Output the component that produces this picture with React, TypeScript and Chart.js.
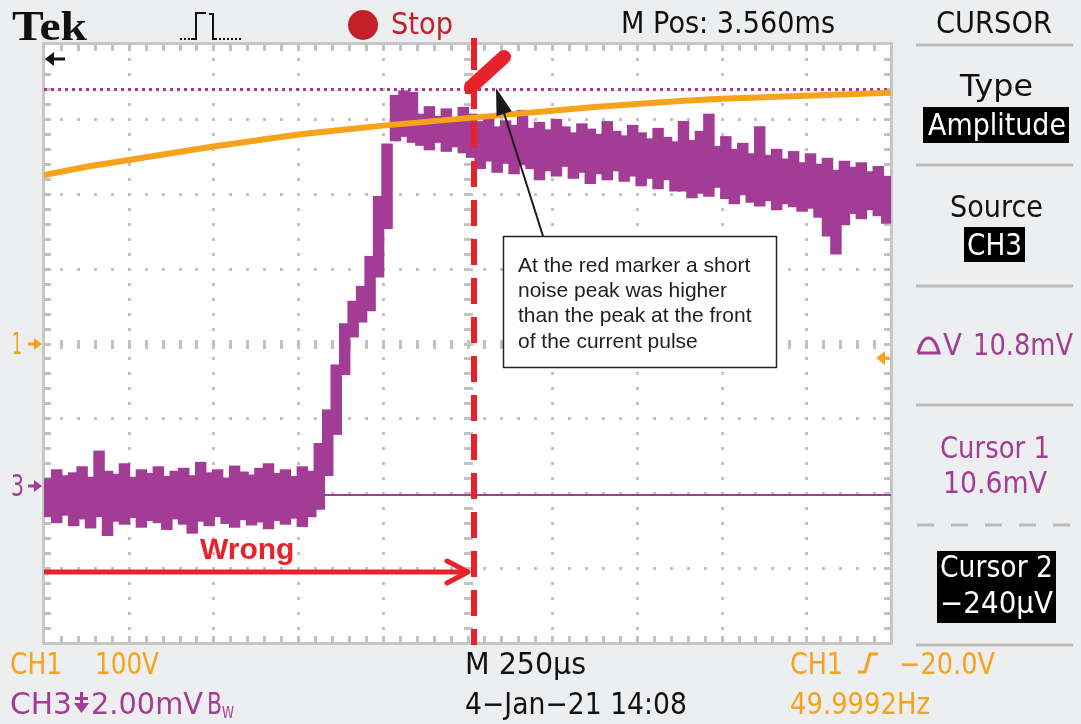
import React, { useEffect, useRef } from 'react';
import { Chart, registerables } from 'chart.js';

Chart.register(...registerables);

const W = 1081;
const H = 724;

// ---- data (screen divisions: x 0..10, y -4..+4) ----
const CH3_STEP_DIV = 0.1; // sampling step of the envelope columns
const ch3High = [
  -1.82, -1.70, -1.78, -1.74, -1.66, -1.80, -1.45, -1.72, -1.76, -1.62,
  -1.80, -1.70, -1.75, -1.66, -1.79, -1.72, -1.68, -1.78, -1.60, -1.74,
  -1.70, -1.81, -1.65, -1.73, -1.77, -1.68, -1.62, -1.75, -1.70, -1.79,
  -1.66, -1.72,
  -1.35, -0.90, -0.30, 0.25, 0.55, 0.75, 1.15, 1.95, 2.65,
  3.30, 3.36, 3.34, 3.05, 3.15, 3.02, 3.12, 3.00, 3.14, 3.05,
  2.95, 3.00, 2.88, 2.96, 2.90, 3.10, 2.86, 2.94, 2.84, 2.98,
  2.88, 2.80, 2.92, 2.85, 2.78, 2.95, 2.82, 2.76, 2.90, 2.80,
  2.72, 2.86, 2.74, 2.68, 2.95, 2.70, 2.82, 3.05, 2.62, 2.75,
  2.58, 2.66, 2.52, 2.88, 2.50, 2.58, 2.45, 2.55, 2.40, 2.52,
  2.38, 2.46, 2.30, 2.42, 2.34, 2.40, 2.28, 2.35, 2.22,
];
const ch3Low = [
  -2.30, -2.38, -2.28, -2.42, -2.33, -2.45, -2.30, -2.55, -2.36, -2.40,
  -2.31, -2.44, -2.35, -2.38, -2.47, -2.33, -2.40, -2.52, -2.36, -2.42,
  -2.30, -2.39, -2.44, -2.34, -2.41, -2.37, -2.46, -2.35, -2.40, -2.32,
  -2.43, -2.30,
  -2.20, -1.75, -1.20, -0.40, 0.10, 0.30, 0.45, 0.90, 1.55,
  2.72, 2.78, 2.70, 2.66, 2.60, 2.70, 2.58, 2.64, 2.56, 2.50,
  2.35, 2.45, 2.30, 2.42, 2.28, 2.40, 2.35, 2.20, 2.32, 2.25,
  2.38, 2.22, 2.30, 2.15, 2.28, 2.20, 2.32, 2.18, 2.25, 2.12,
  2.22, 2.08, 2.20, 2.05, 2.05, 1.96, 2.02, 1.98, 2.10, 1.95,
  1.88, 2.00, 1.90, 1.85, 1.92, 1.80, 1.88, 1.84, 1.78, 1.82,
  1.70, 1.45, 1.21, 1.60, 1.75, 1.68, 1.80, 1.72, 1.62,
];
const ch1Time = [0, 0.5, 1, 1.5, 2, 2.5, 3, 3.5, 4, 4.5, 5, 5.5, 6, 6.5, 7, 7.5, 8, 8.5, 9, 9.5, 10];
const ch1Level = [2.25, 2.36, 2.45, 2.54, 2.63, 2.71, 2.79, 2.85, 2.91, 2.96, 3.01, 3.06, 3.11, 3.16, 3.20, 3.24, 3.27, 3.29, 3.31, 3.33, 3.35];

const CH3_GROUND_DIV = -1.9;
const CH3_MV_PER_DIV = 2;
const CURSOR1_MV = 10.6;
const CURSOR2_MV = -0.24;
const CH1_REF_DIV = 0;
const TRIGGER_LEVEL_DIV = -0.19;
const MARKER_TIME_DIV = 5.08;

const headerTexts = { brand: 'Tek', state: 'Stop', pos: 'M Pos: 3.560ms', menu: 'CURSOR' };
const note = ['At the red marker a short', 'noise peak was higher', 'than the peak at the front', 'of the current pulse'];

const BG = '#EDEEF0';
const GRID = '#C2C2C2';
const FRAME = '#C6C6C6';
const ORANGE = '#F7A21B';
const PURPLE = '#A23C95';
const RED = '#E8222A';
const SEP = '#BBBBBB';
const SCR = '"DejaVu Sans"';

function fit(ctx: CanvasRenderingContext2D, s: string, x: number, y: number, w: number, size: number, color: string, font = SCR, weight = '') {
  ctx.save();
  ctx.font = `${weight} ${size}px ${font}`;
  ctx.fillStyle = color;
  ctx.textAlign = 'left';
  ctx.textBaseline = 'alphabetic';
  const m = ctx.measureText(s).width;
  ctx.translate(x, y);
  ctx.scale(w / m, 1);
  ctx.fillText(s, 0, 0);
  ctx.restore();
}

function arrowRight(ctx: CanvasRenderingContext2D, tipX: number, cy: number, color: string) {
  ctx.fillStyle = color;
  ctx.beginPath();
  ctx.moveTo(tipX, cy);
  ctx.lineTo(tipX - 8, cy - 6);
  ctx.lineTo(tipX - 8, cy + 6);
  ctx.closePath();
  ctx.fill();
  ctx.fillRect(tipX - 14, cy - 1.5, 8, 3);
}
function arrowLeft(ctx: CanvasRenderingContext2D, tipX: number, cy: number, color: string, len = 14) {
  ctx.fillStyle = color;
  ctx.beginPath();
  ctx.moveTo(tipX, cy);
  ctx.lineTo(tipX + 9, cy - 7);
  ctx.lineTo(tipX + 9, cy + 7);
  ctx.closePath();
  ctx.fill();
  ctx.fillRect(tipX + 6, cy - 1.5, len - 6, 3);
}

const scopePlugin = {
  id: 'scope',
  beforeDraw(chart: any) {
    const { ctx, chartArea: a } = chart;
    const xs = chart.scales.x;
    const ys = chart.scales.y;
    ctx.save();
    ctx.fillStyle = BG;
    ctx.fillRect(0, 0, W, H);
    ctx.fillStyle = '#FFFFFF';
    ctx.fillRect(a.left, a.top, a.right - a.left, a.bottom - a.top);
    ctx.fillStyle = GRID;
    for (let i = 1; i < 10; i++) {
      if (i === 5) continue;
      const px = Math.round(xs.getPixelForValue(i));
      for (let k = 1; k < 40; k++) {
        const py = Math.round(ys.getPixelForValue(-4 + k * 0.2));
        ctx.fillRect(px - 1, py - 1, 3, 3);
      }
    }
    for (let j = -3; j <= 3; j++) {
      if (j === 0) continue;
      const py = Math.round(ys.getPixelForValue(j));
      for (let k = 1; k < 50; k++) {
        const px = Math.round(xs.getPixelForValue(k * 0.2));
        ctx.fillRect(px - 1, py - 1, 3, 3);
      }
    }
    const cx = Math.round(xs.getPixelForValue(5));
    const cy = Math.round(ys.getPixelForValue(0));
    for (let k = 1; k < 50; k++) {
      const px = Math.round(xs.getPixelForValue(k * 0.2));
      ctx.fillRect(px - 1, cy - 4, 3, 9);
      ctx.fillRect(px - 1, a.top, 3, 7);
      ctx.fillRect(px - 1, a.bottom - 7, 3, 7);
    }
    for (let k = 1; k < 40; k++) {
      const py = Math.round(ys.getPixelForValue(-4 + k * 0.2));
      ctx.fillRect(cx - 4, py - 1, 9, 3);
      ctx.fillRect(a.left, py - 1, 7, 3);
      ctx.fillRect(a.right - 7, py - 1, 7, 3);
    }
    ctx.strokeStyle = FRAME;
    ctx.lineWidth = 3;
    ctx.strokeRect(a.left - 0.5, a.top - 0.5, a.right - a.left + 1, a.bottom - a.top + 1);
    ctx.restore();
  },
  beforeDatasetsDraw(chart: any) {
    const { ctx, chartArea: a } = chart;
    const ys = chart.scales.y;
    ctx.save();
    const c1 = ys.getPixelForValue(CH3_GROUND_DIV + CURSOR1_MV / CH3_MV_PER_DIV);
    const c2 = ys.getPixelForValue(CH3_GROUND_DIV + CURSOR2_MV / CH3_MV_PER_DIV);
    ctx.strokeStyle = PURPLE;
    ctx.lineWidth = 3;
    ctx.setLineDash([3, 4]);
    ctx.beginPath();
    ctx.moveTo(a.left, Math.round(c1) + 0.5);
    ctx.lineTo(a.right, Math.round(c1) + 0.5);
    ctx.stroke();
    ctx.setLineDash([]);
    ctx.lineWidth = 2;
    ctx.beginPath();
    ctx.moveTo(a.left, Math.round(c2));
    ctx.lineTo(a.right, Math.round(c2));
    ctx.stroke();
    ctx.restore();
  },
  afterDatasetsDraw(chart: any) {
    const { ctx, chartArea: a } = chart;
    const xs = chart.scales.x;
    const ys = chart.scales.y;
    ctx.save();
    const mx = Math.round(xs.getPixelForValue(MARKER_TIME_DIV));
    ctx.strokeStyle = RED;
    ctx.lineWidth = 6;
    ctx.fillStyle = RED;
    ctx.fillRect(mx - 3, 38, 6, a.top - 38);
    ctx.setLineDash([26, 13]);
    ctx.beginPath();
    ctx.moveTo(mx, a.top);
    ctx.lineTo(mx, a.bottom + 2);
    ctx.stroke();
    ctx.setLineDash([]);
    // red noise peak blob
    ctx.lineWidth = 14;
    ctx.lineCap = 'round';
    ctx.beginPath();
    ctx.moveTo(mx - 3, 87);
    ctx.lineTo(mx + 30, 57);
    ctx.stroke();
    ctx.lineCap = 'butt';
    ctx.fillRect(mx - 9, 82, 11, 12);
    // red "Wrong" arrow
    const ay = 572;
    ctx.lineWidth = 5;
    ctx.beginPath();
    ctx.moveTo(a.left, ay);
    ctx.lineTo(mx - 6, ay);
    ctx.stroke();
    ctx.lineCap = 'round';
    ctx.lineJoin = 'round';
    ctx.beginPath();
    ctx.moveTo(mx - 27, ay - 11);
    ctx.lineTo(mx - 6, ay);
    ctx.lineTo(mx - 27, ay + 11);
    ctx.stroke();
    ctx.font = 'bold 30px "Liberation Sans"';
    ctx.fillStyle = RED;
    ctx.fillText('Wrong', 200, 559);
    // black pointer arrow
    const tip = { x: 496, y: 88 };
    const tail = { x: 543, y: 236 };
    const ang = Math.atan2(tip.y - tail.y, tip.x - tail.x);
    ctx.strokeStyle = '#1A1A1A';
    ctx.fillStyle = '#1A1A1A';
    ctx.lineWidth = 2;
    ctx.lineCap = 'butt';
    ctx.beginPath();
    ctx.moveTo(tail.x, tail.y);
    ctx.lineTo(tip.x - 20 * Math.cos(ang), tip.y - 20 * Math.sin(ang));
    ctx.stroke();
    ctx.beginPath();
    ctx.moveTo(tip.x, tip.y);
    ctx.lineTo(tip.x - 27 * Math.cos(ang) + 8 * Math.sin(ang), tip.y - 27 * Math.sin(ang) - 8 * Math.cos(ang));
    ctx.lineTo(tip.x - 27 * Math.cos(ang) - 8 * Math.sin(ang), tip.y - 27 * Math.sin(ang) + 8 * Math.cos(ang));
    ctx.closePath();
    ctx.fill();
    // note box
    ctx.fillStyle = '#FFFFFF';
    ctx.fillRect(503.5, 236.5, 273, 131);
    ctx.strokeStyle = '#222222';
    ctx.lineWidth = 1.5;
    ctx.strokeRect(503.5, 236.5, 273, 131);
    ctx.fillStyle = '#1E1E1E';
    ctx.font = '21px "Liberation Sans"';
    note.forEach((line, i) => ctx.fillText(line, 518, 272 + i * 25.2));
    // channel markers
    const y1 = Math.round(ys.getPixelForValue(CH1_REF_DIV));
    fit(ctx, '1', 12, y1 + 10, 10, 30, ORANGE);
    arrowRight(ctx, 42, y1, ORANGE);
    const y3 = Math.round(ys.getPixelForValue(CH3_GROUND_DIV));
    fit(ctx, '3', 11, y3 + 10, 13, 30, PURPLE);
    arrowRight(ctx, 42, y3, PURPLE);
    const yt = Math.round(ys.getPixelForValue(TRIGGER_LEVEL_DIV));
    arrowLeft(ctx, 876, yt, ORANGE, 13);
    arrowLeft(ctx, a.left + 1, 59, '#111111', 20);
    ctx.restore();
  },
  afterDraw(chart: any) {
    const { ctx } = chart;
    ctx.save();
    fit(ctx, headerTexts.brand, 12, 40, 75, 42, '#111111', '"Liberation Serif"', 'bold');
    ctx.fillStyle = '#111111';
    [180, 184, 188].forEach((x) => ctx.fillRect(x, 38, 2, 2));
    [219, 223, 227, 231, 235, 239].forEach((x) => ctx.fillRect(x, 38, 2, 2));
    ctx.strokeStyle = '#111111';
    ctx.lineWidth = 2;
    ctx.beginPath();
    ctx.moveTo(191, 39);
    ctx.lineTo(196, 39);
    ctx.lineTo(196, 13);
    ctx.lineTo(206, 13);
    ctx.moveTo(209, 14);
    ctx.lineTo(213, 14);
    ctx.lineTo(213, 39);
    ctx.lineTo(217, 39);
    ctx.stroke();
    ctx.fillStyle = '#C4202A';
    ctx.beginPath();
    ctx.arc(363, 25, 15, 0, Math.PI * 2);
    ctx.fill();
    fit(ctx, headerTexts.state, 391, 34, 62, 30, '#C4202A');
    fit(ctx, headerTexts.pos, 621, 33, 214, 30, '#111111');
    fit(ctx, headerTexts.menu, 936, 33, 116, 30, '#111111');
    ctx.strokeStyle = SEP;
    ctx.lineWidth = 3;
    [45, 165, 286, 405, 645].forEach((y) => {
      ctx.beginPath();
      ctx.moveTo(916, y);
      ctx.lineTo(1073, y);
      ctx.stroke();
    });
    ctx.setLineDash([17, 17]);
    ctx.beginPath();
    ctx.moveTo(917, 525);
    ctx.lineTo(1073, 525);
    ctx.stroke();
    ctx.setLineDash([]);
    fit(ctx, 'Type', 960, 96, 73, 30, '#111111');
    ctx.fillStyle = '#000000';
    ctx.fillRect(923, 107, 146, 36);
    fit(ctx, 'Amplitude', 928, 135, 138, 30, '#FFFFFF');
    fit(ctx, 'Source', 950, 217, 93, 30, '#111111');
    ctx.fillStyle = '#000000';
    ctx.fillRect(964, 227, 61, 35);
    fit(ctx, 'CH3', 967, 255, 55, 30, '#FFFFFF');
    ctx.strokeStyle = PURPLE;
    ctx.lineWidth = 3;
    ctx.beginPath();
    ctx.moveTo(918, 353);
    ctx.lineTo(939, 353);
    ctx.quadraticCurveTo(935, 338, 928.5, 338);
    ctx.quadraticCurveTo(922, 338, 918, 353);
    ctx.stroke();
    fit(ctx, 'V', 943, 355, 19, 30, PURPLE);
    fit(ctx, '10.8mV', 973, 355, 100, 30, PURPLE);
    fit(ctx, 'Cursor 1', 940, 458, 110, 30, PURPLE);
    fit(ctx, '10.6mV', 943, 493, 104, 30, PURPLE);
    ctx.fillStyle = '#000000';
    ctx.fillRect(937, 551, 119, 72);
    fit(ctx, 'Cursor 2', 940, 577, 113, 30, '#FFFFFF');
    fit(ctx, '\u2212240\u00B5V', 940, 613, 113, 30, '#FFFFFF');
    fit(ctx, 'CH1', 10, 674, 52, 30, ORANGE);
    fit(ctx, '100V', 95, 674, 64, 30, ORANGE);
    fit(ctx, 'CH3', 10, 714, 62, 30, PURPLE);
    ctx.fillStyle = PURPLE;
    ctx.fillRect(80, 692, 3, 12);
    ctx.fillRect(75, 697, 13, 3);
    ctx.beginPath();
    ctx.moveTo(74, 703);
    ctx.lineTo(89, 703);
    ctx.lineTo(81.5, 713);
    ctx.closePath();
    ctx.fill();
    fit(ctx, '2.00mV', 91, 714, 112, 30, PURPLE);
    fit(ctx, 'B', 207, 714, 15, 30, PURPLE);
    fit(ctx, 'W', 222, 718, 12, 16, PURPLE);
    fit(ctx, 'M 250\u00B5s', 465, 674, 121, 30, '#111111');
    fit(ctx, '4\u2212Jan\u221221 14:08', 465, 714, 222, 30, '#111111');
    fit(ctx, 'CH1', 790, 674, 53, 30, ORANGE);
    ctx.strokeStyle = ORANGE;
    ctx.lineWidth = 3;
    ctx.beginPath();
    ctx.moveTo(858, 672);
    ctx.lineTo(865, 672);
    ctx.lineTo(870, 654);
    ctx.lineTo(878, 654);
    ctx.stroke();
    fit(ctx, '\u221220.0V', 899, 674, 96, 30, ORANGE);
    fit(ctx, '49.9992Hz', 790, 714, 140, 30, ORANGE);
    ctx.restore();
  },
};

export default function App() {
  const ref = useRef<HTMLCanvasElement>(null);
  useEffect(() => {
    const canvas = ref.current;
    if (!canvas) return;
    const chart = new Chart(canvas, {
      type: 'bar',
      data: {
        datasets: [
          {
            type: 'line',
            label: 'CH1',
            data: ch1Time.map((t, i) => ({ x: t, y: ch1Level[i] })),
            borderColor: ORANGE,
            backgroundColor: ORANGE,
            borderWidth: 6,
            pointRadius: 0,
            tension: 0,
            fill: false,
            order: 0,
          } as any,
          {
            type: 'bar',
            label: 'CH3',
            data: ch3High.map((h, i) => ({ x: (i + 0.5) * CH3_STEP_DIV, y: [ch3Low[i], h] })),
            backgroundColor: PURPLE,
            borderColor: PURPLE,
            borderWidth: 0,
            barPercentage: 1,
            categoryPercentage: 1,
            inflateAmount: 1.5,
            borderSkipped: false,
            order: 1,
          } as any,
        ],
      },
      options: {
        responsive: false,
        animation: false,
        devicePixelRatio: 1,
        layout: { padding: { left: 44, right: 190, top: 44, bottom: 81 } },
        plugins: { legend: { display: false }, tooltip: { enabled: false } },
        events: [],
        datasets: { bar: { barPercentage: 1, categoryPercentage: 1 } },
        scales: {
          x: { type: 'linear', min: 0, max: 10, display: false, offset: false, grid: { offset: false } },
          y: { type: 'linear', min: -4, max: 4, display: false },
        },
      } as any,
      plugins: [scopePlugin],
    });
    return () => chart.destroy();
  }, []);
  return (
    <div style={{ position: 'fixed', left: 0, top: 0, width: W, height: H, background: BG }}>
      <canvas ref={ref} width={W} height={H} style={{ display: 'block', width: W, height: H }} />
    </div>
  );
}
